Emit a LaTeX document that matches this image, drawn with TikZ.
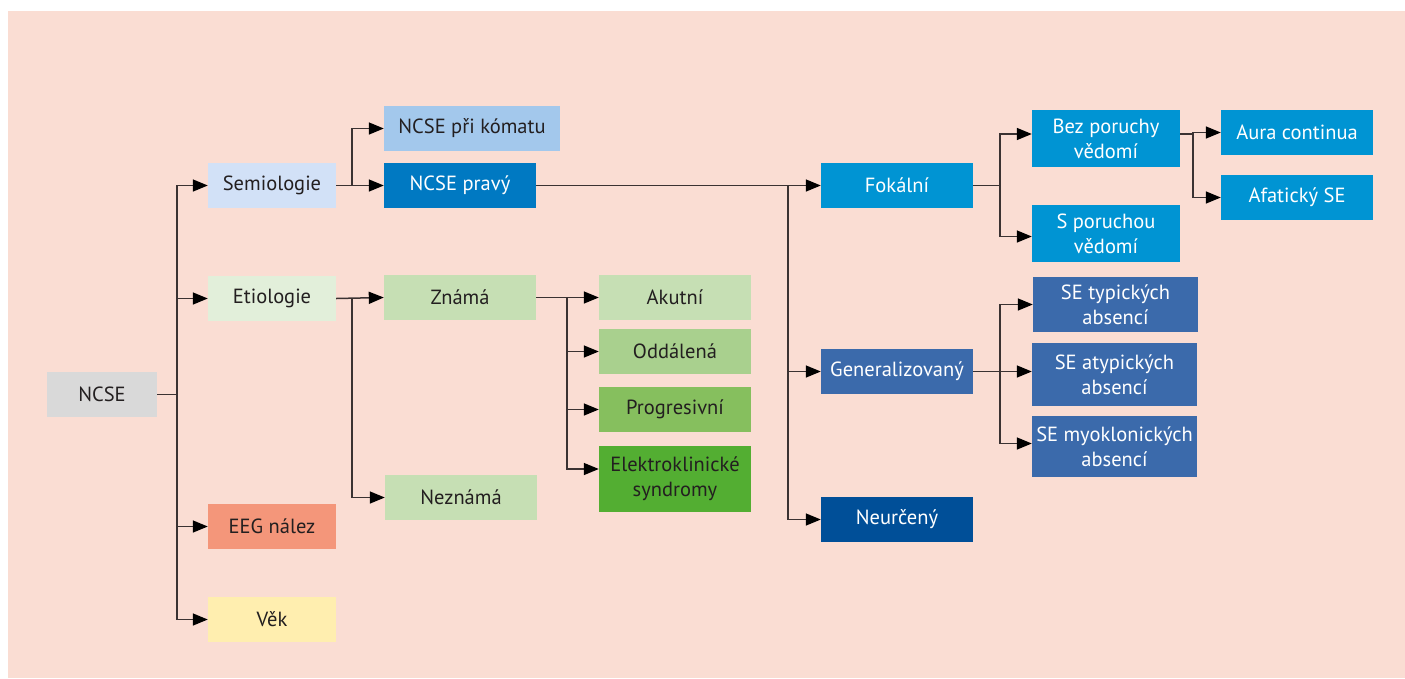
\documentclass[tikz,border=0pt]{standalone}
\usepackage{fontspec}
\setmainfont{PT Sans}
\usetikzlibrary{arrows.meta}
\definecolor{bg}{HTML}{FADDD3}
\definecolor{txt}{HTML}{231F20}
\definecolor{lc}{HTML}{3A3232}
\definecolor{cgray}{HTML}{D9D9D9}
\definecolor{csem}{HTML}{D2E1F7}
\definecolor{ckom}{HTML}{A3C8EC}
\definecolor{cprav}{HTML}{0079C2}
\definecolor{ceti}{HTML}{E2EFDA}
\definecolor{cg1}{HTML}{C6DFB4}
\definecolor{cg2}{HTML}{A9D08E}
\definecolor{cg3}{HTML}{86BF5E}
\definecolor{cg4}{HTML}{53AE32}
\definecolor{ceeg}{HTML}{F4967A}
\definecolor{cvek}{HTML}{FFEEAF}
\definecolor{cfok}{HTML}{0094D3}
\definecolor{cgen}{HTML}{3B6AAB}
\definecolor{cneur}{HTML}{004F98}
\begin{document}
\begin{tikzpicture}[x=1pt,y=-1pt,
  box/.style={inner sep=0pt, align=center, text=txt,
    font=\fontsize{20.5}{25}\selectfont, minimum height=45pt, minimum width=152pt},
  wbox/.style={box, text=white},
  arr/.style={draw=lc, line width=1.5pt, -{Triangle[length=15pt,width=12pt,color=black]}}]
\useasboundingbox (0,0) rectangle (1405,678);
\fill[white] (0,0) rectangle (1405,678);
\fill[bg] (8,11) rectangle (1405,678);
% level 0
\node[box, fill=cgray, minimum width=110pt] (ncse) at (102,394.5) {NCSE};
% level 1
\node[box, fill=csem, minimum width=128pt] (sem) at (272,185.5) {Semiologie};
\node[box, fill=ceti, minimum width=128pt] (eti) at (272,298.5) {Etiologie};
\node[box, fill=ceeg, minimum width=128pt] (eeg) at (272,526.5) {EEG nález};
\node[box, fill=cvek, minimum width=128pt] (vek) at (272,619.5) {Věk};
% level 2
\node[box, fill=ckom, minimum width=176pt] (kom) at (472,128.5) {NCSE při kómatu};
\node[wbox, fill=cprav] (prav) at (460,185.5) {NCSE pravý};
\node[box, fill=cg1] (znama) at (460,297.5) {Známá};
\node[box, fill=cg1] (nezn) at (461,497.5) {Neznámá};
% level 3 (etiology)
\node[box, fill=cg1] (akut) at (675,297.5) {Akutní};
\node[box, fill=cg2] (odd) at (675,351.5) {Oddálená};
\node[box, fill=cg3] (prog) at (675,409.5) {Progresivní};
\node[box, fill=cg4, minimum height=66pt] (elek) at (675,479) {Elektroklinické\\syndromy};
% level 3 (semiology)
\node[wbox, fill=cfok] (fok) at (897,185.5) {Fokální};
\node[wbox, fill=cgen] (gen) at (897,371.5) {Generalizovaný};
\node[wbox, fill=cneur] (neur) at (897,519.5) {Neurčený};
% level 4
\node[wbox, fill=cfok, minimum width=148pt, minimum height=57pt] (bez) at (1106,138.5) {Bez poruchy\\vědomí};
\node[wbox, fill=cfok, minimum width=148pt, minimum height=57pt] (spor) at (1106,233.5) {S poruchou\\vědomí};
\node[wbox, fill=cgen, minimum width=165pt, minimum height=55pt] (typ) at (1115.5,304.5) {SE typických\\absencí};
\node[wbox, fill=cgen, minimum width=165pt, minimum height=63pt] (atyp) at (1114.5,374.5) {SE atypických\\absencí};
\node[wbox, fill=cgen, minimum width=165pt, minimum height=61pt] (myo) at (1114.5,446.5) {SE myoklonických\\absencí};
% level 5
\node[wbox, fill=cfok] (aura) at (1297,132.5) {Aura continua};
\node[wbox, fill=cfok] (afat) at (1297,197.5) {Afatický SE};
% connectors
\draw[arr] (ncse.east) -- ++(20,0) |- (sem.west);
\draw[arr] (ncse.east) -- ++(20,0) |- (eti.west);
\draw[arr] (ncse.east) -- ++(20,0) |- (eeg.west);
\draw[arr] (ncse.east) -- ++(20,0) |- (vek.west);
\draw[arr] (sem.east) -- ++(16,0) |- (kom.west);
\draw[arr] (sem.east) -- (prav.west);
\draw[arr] (eti.east) -- (znama.west);
\draw[arr] (eti.east) -- ++(16,0) |- (nezn.west);
\draw[arr] (znama.east) -- (akut.west);
\draw[arr] (znama.east) -- ++(31,0) |- (odd.west);
\draw[arr] (znama.east) -- ++(31,0) |- (prog.west);
\draw[arr] (znama.east) -- ++(31,0) |- ([yshift=10pt]elek.west);
\draw[arr] (prav.east) -- (fok.west);
\draw[arr] (prav.east) -- ++(252,0) |- (gen.west);
\draw[arr] (prav.east) -- ++(252,0) |- (neur.west);
\draw[arr] (fok.east) -- ++(27,0) |- ([yshift=4.5pt]bez.west);
\draw[arr] (fok.east) -- ++(27,0) |- ([yshift=-3pt]spor.west);
\draw[arr] ([yshift=4.5pt]bez.east) -- ++(13,0) |- (aura.west);
\draw[arr] ([yshift=4.5pt]bez.east) -- ++(13,0) |- (afat.west);
\draw[arr] (gen.east) -- ++(27,0) |- (typ.west);
\draw[arr] (gen.east) -- ++(27,0) |- ([yshift=3pt]atyp.west);
\draw[arr] (gen.east) -- ++(27,0) |- ([yshift=3pt]myo.west);
\end{tikzpicture}
\end{document}
